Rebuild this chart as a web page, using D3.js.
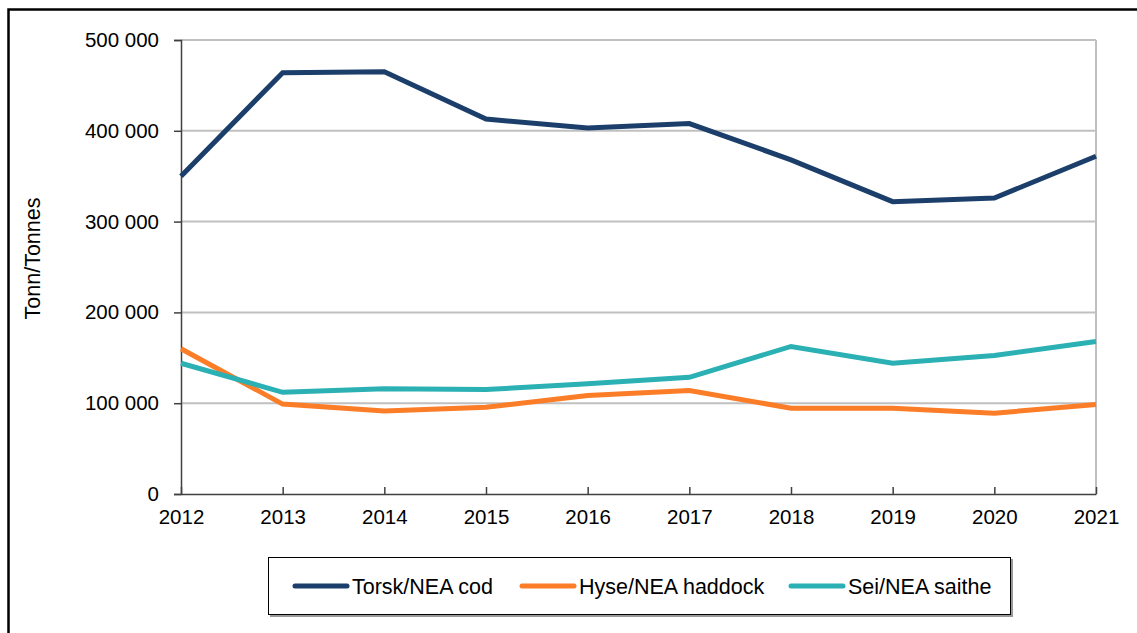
<!DOCTYPE html>
<html>
<head>
<meta charset="utf-8">
<script src="https://cdn.jsdelivr.net/npm/d3@7"></script>
<style>
  body { margin: 0; background: #fff; }
  svg { display: block; font-family: "Liberation Sans", Arial, sans-serif; }
</style>
</head>
<body>
<div id="chart"></div>
<script>
const years = [2012, 2013, 2014, 2015, 2016, 2017, 2018, 2019, 2020, 2021];
const cod = [350000, 464000, 465000, 413000, 403000, 408000, 368000, 322000, 326000, 372000];
const haddock = [160000, 99000, 91500, 95500, 108500, 114000, 94500, 94500, 89000, 98500];
const saithe = [144000, 112000, 116000, 115000, 121500, 128500, 162500, 144000, 152500, 168000];
const seriesNames = ['Torsk/NEA cod', 'Hyse/NEA haddock', 'Sei/NEA saithe'];
const seriesColors = ['#1b3f6a', '#fb7d28', '#2bb0b4'];
const yTicks = [0, 100000, 200000, 300000, 400000, 500000];

const w = 1137;
const h = 633;

const svg = d3.select('#chart').append('svg').attr('width', w).attr('height', h);

// outer frame
svg.append('rect')
	.attr('x', 8.5).attr('y', 9.5)
	.attr('width', 1140).attr('height', 640)
	.attr('fill', 'none').attr('stroke', '#000').attr('stroke-width', 2.5);

const x = d3.scaleLinear().domain([2012, 2021]).range([181, 1096]);
const y = d3.scaleLinear().domain([0, 500000]).range([494, 40]);

const fmt = v => d3.format(',')(v).replace(/,/g, ' ');

// gridlines
svg.append('g')
	.selectAll('line')
	.data(yTicks.filter(d => d > 0))
	.enter()
	.append('line')
	.attr('x1', x(2012)).attr('x2', x(2021))
	.attr('y1', d => y(d)).attr('y2', d => y(d))
	.attr('stroke', '#c0c0c0').attr('stroke-width', 2);

svg.append('line')
	.attr('x1', x(2021)).attr('x2', x(2021))
	.attr('y1', y(500000)).attr('y2', y(0))
	.attr('stroke', '#c0c0c0').attr('stroke-width', 2);

// y axis
const yAxis = svg.append('g')
	.attr('transform', `translate(${x(2012)},0)`)
	.call(d3.axisLeft(y).tickValues(yTicks).tickFormat(fmt).tickSize(7).tickPadding(15));

// x axis (ticks point up)
const xAxis = svg.append('g')
	.attr('transform', `translate(0,${y(0)})`)
	.call(d3.axisBottom(x).tickValues(years).tickFormat(d3.format('d')).tickSizeInner(-7).tickSizeOuter(0).tickPadding(15));

[yAxis, xAxis].forEach(g => {
	g.select('.domain').attr('stroke', '#404040').attr('stroke-width', 1.5);
	g.selectAll('.tick line').attr('stroke', '#404040').attr('stroke-width', 1.5);
	g.selectAll('.tick text').attr('fill', '#000').style('font-size', '20.5px').style('font-family', '"Liberation Sans", Arial, sans-serif');
});

svg.append('text')
	.attr('transform', `translate(40,258.5) rotate(-90)`)
	.attr('text-anchor', 'middle')
	.style('font-size', '21.5px')
	.text('Tonn/Tonnes');

// lines
const line = d3.line().x((d, i) => x(years[i])).y(d => y(d));
[cod, haddock, saithe].forEach((s, k) => {
	svg.append('path')
		.datum(s)
		.attr('d', line)
		.attr('fill', 'none')
		.attr('stroke', seriesColors[k])
		.attr('stroke-width', 5)
		.attr('stroke-linejoin', 'miter');
});

// legend
const legend = svg.append('g').attr('id', 'legend');
legend.append('rect')
	.attr('x', 270).attr('y', 559).attr('width', 743).attr('height', 58)
	.attr('fill', '#999');
legend.append('rect')
	.attr('x', 268.5).attr('y', 557.5).attr('width', 742).attr('height', 57)
	.attr('fill', '#fff').attr('stroke', '#000').attr('stroke-width', 1);

const legendX = [295, 522, 791];
seriesNames.forEach((name, k) => {
	legend.append('line')
		.attr('x1', legendX[k]).attr('x2', legendX[k] + 52)
		.attr('y1', 586).attr('y2', 586)
		.attr('stroke', seriesColors[k]).attr('stroke-width', 5)
		.attr('stroke-linecap', 'round');
	legend.append('text')
		.attr('x', legendX[k] + 57).attr('y', 593.5)
		.style('font-size', '21.5px')
		.text(name);
});
</script>
</body>
</html>
